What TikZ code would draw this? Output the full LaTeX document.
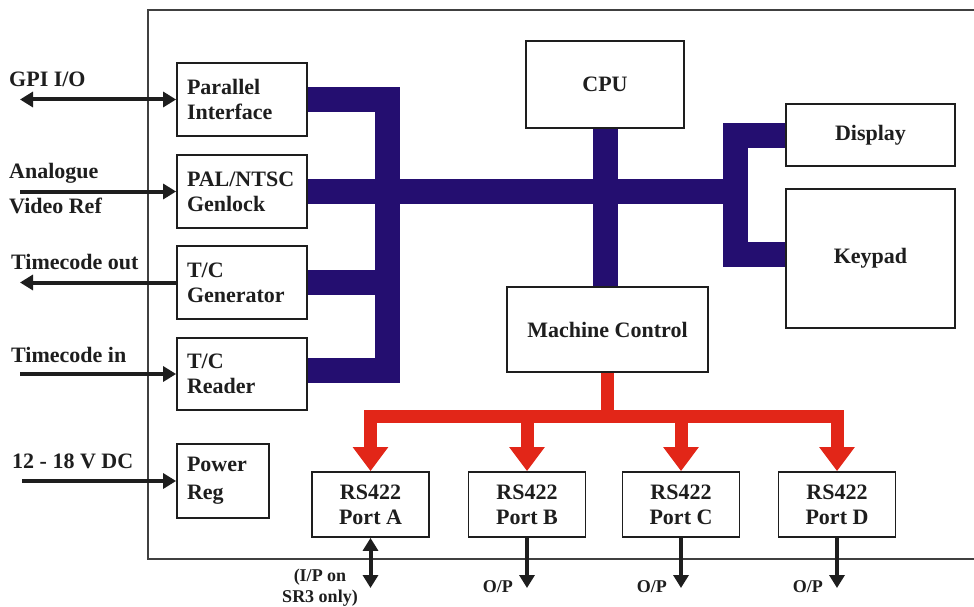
\documentclass[tikz,border=0pt]{standalone}
\usepackage{fontspec}
\setmainfont{Liberation Serif}
\usetikzlibrary{arrows.meta}
\definecolor{busblue}{RGB}{36,14,112}
\definecolor{busred}{RGB}{226,38,24}
\definecolor{ink}{RGB}{30,30,30}
\pgfdeclarelayer{bg}
\pgfsetlayers{bg,main}
\begin{document}
\begin{tikzpicture}[x=1pt,y=-1pt,
  box/.style={draw=ink, line width=1.8pt, fill=white, inner sep=0pt, text=ink,
    font=\fontsize{22}{25}\selectfont\bfseries, align=center},
  lbox/.style={box, inner xsep=10pt, align=left},
  lbl/.style={inner sep=0pt, text=ink, font=\fontsize{22}{25}\selectfont\bfseries},
  slbl/.style={inner sep=0pt, text=ink, font=\fontsize{18}{21}\selectfont\bfseries, align=center},
  bbus/.style={draw=busblue, line width=25pt, line join=miter, line cap=butt},
  rbus/.style={draw=busred, line width=13pt, line join=miter, line cap=butt},
  barrow/.style={draw=ink, line width=4pt},
  frame/.style={draw=ink!85, line width=1.6pt},
  tip/.style={-{Triangle[width=15pt,length=13pt]}},
  dtip/.style={{Triangle[width=15pt,length=13pt]}-{Triangle[width=15pt,length=13pt]}},
  rtip/.style={-{Triangle[width=34pt,length=24pt]}}
]
\useasboundingbox (0,0) rectangle (974,607);

% boxes
\node[lbox, text width=110pt, minimum height=73pt] (par) at (242,99.5) {Parallel\\Interface};
\node[lbox, text width=110pt, minimum height=73pt] (gen) at (242,191.5) {PAL/NTSC\\Genlock};
\node[lbox, text width=110pt, minimum height=73pt] (tcg) at (242,282.5) {T/C\\Generator};
\node[lbox, text width=110pt, minimum height=72pt] (tcr) at (242,374) {T/C\\Reader};
\node[lbox, text width=72pt, minimum height=74pt] (pwr) at (223,481) {Power\\[3pt]Reg};
\node[box, minimum width=158pt, minimum height=87pt] (cpu) at (605,84.5) {CPU};
\node[box, minimum width=169pt, minimum height=62pt] (disp) at (870.5,135) {Display};
\node[box, minimum width=169pt, minimum height=139pt] (key) at (870.5,258.5) {Keypad};
\node[box, minimum width=201pt, minimum height=85pt] (mc) at (607.5,329.5) {Machine Control};
\node[box, minimum width=117pt, minimum height=65pt] (pA) at (370.5,504.5) {RS422\\Port A};
\node[box, minimum width=117pt, minimum height=65pt] (pB) at (527,504.5) {RS422\\Port B};
\node[box, minimum width=117pt, minimum height=65pt] (pC) at (681,504.5) {RS422\\Port C};
\node[box, minimum width=117pt, minimum height=65pt] (pD) at (837,504.5) {RS422\\Port D};

% bus junction coordinates
\coordinate (lbTop) at (387.5,99.5);
\coordinate (lbBot) at (387.5,370);
\coordinate (rbTop) at (735.5,135.5);
\coordinate (rbBot) at (735.5,254.5);
\coordinate (rj) at (606.5,416);

\begin{pgfonlayer}{bg}
\fill[white] (0,0) rectangle (974,607);
\draw[frame] (974,10) -- (148,10) -- (148,559) -- (974,559);
\draw[bbus] (par.east) -- (lbTop) -- (lbBot) -- (tcr.east |- lbBot);
\draw[bbus] (tcg.east) -- (tcg.east -| lbTop);
\draw[bbus] (gen.east) -- (gen.east -| rbTop);
\draw[bbus] (cpu.south) -- (cpu.south |- mc.north);
\draw[bbus] (disp.west |- rbTop) -- (rbTop) -- (rbBot) -- (key.west |- rbBot);
\draw[rbus] (mc.south) -- (mc.south |- rj);
\end{pgfonlayer}

% red branches
\draw[rbus, rtip] (rj) -| (pA.north);
\draw[rbus, rtip] (rj) -| (pB.north);
\draw[rbus, rtip] (rj) -| (pC.north);
\draw[rbus, rtip] (rj) -| (pD.north);

% left I/O
\coordinate (gpiE) at (20,99.5);
\coordinate (anaE) at (20,191.5);
\coordinate (tcoE) at (20,282.5);
\coordinate (tciE) at (20,374);
\coordinate (pwrE) at (22,481);
\draw[barrow, dtip] (gpiE) -- (par.west);
\draw[barrow, tip] (anaE) -- (gen.west);
\draw[barrow, tip] (tcg.west) -- (tcoE);
\draw[barrow, tip] (tciE) -- (tcr.west);
\draw[barrow, tip] (pwrE) -- (pwr.west);

\node[lbl, anchor=base west] (lgpi) at (9,87) {GPI I/O};
\node[lbl, anchor=base west] (lana) at (9,178) {Analogue};
\node[lbl, anchor=base west] (lvid) at (9,213) {Video Ref};
\node[lbl, anchor=base west] (ltco) at (11,269) {Timecode out};
\node[lbl, anchor=base west] (ltci) at (11,362) {Timecode in};
\node[lbl, anchor=base west] (lpwr) at (12,468) {12 - 18 V DC};

% bottom outputs
\coordinate (oA) at (370.5,588);
\coordinate (oB) at (527,588);
\coordinate (oC) at (681,588);
\coordinate (oD) at (837,588);
\draw[barrow, dtip] (pA.south) -- (oA);
\draw[barrow, tip] (pB.south) -- (oB);
\draw[barrow, tip] (pC.south) -- (oC);
\draw[barrow, tip] (pD.south) -- (oD);

\node[slbl] (lia) at (320,588) {(I/P on\\SR3 only)};
\node[slbl, anchor=base east] (lob) at (513,592) {O/P};
\node[slbl, anchor=base east] (loc) at (667,592) {O/P};
\node[slbl, anchor=base east] (lod) at (823,592) {O/P};
\end{tikzpicture}
\end{document}
